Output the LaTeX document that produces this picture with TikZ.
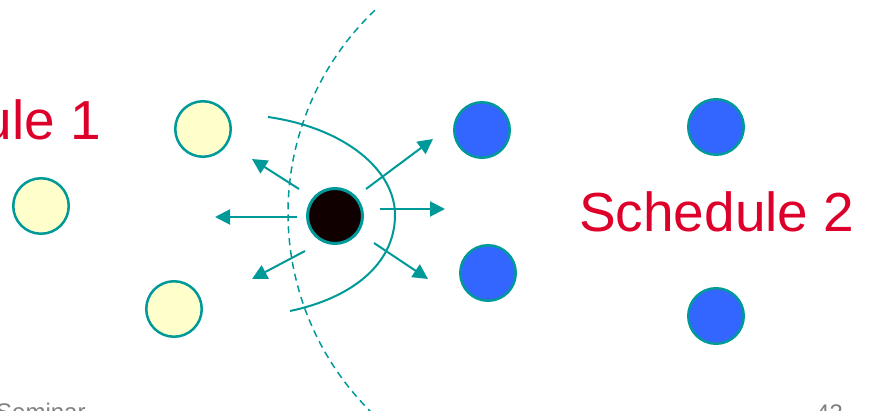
\documentclass[tikz,border=0pt]{standalone}
\usepackage{fontspec}
\setmainfont{Liberation Sans}
\definecolor{ring}{RGB}{0, 153, 153}
\definecolor{idlefill}{RGB}{255, 255, 204}
\definecolor{busyfill}{RGB}{51, 102, 255}
\definecolor{senderfill}{RGB}{17, 0, 0}
\definecolor{slotred}{RGB}{221, 0, 42}
\definecolor{footgray}{RGB}{128, 128, 128}
\usepackage{tikz}
\usetikzlibrary{arrows.meta, positioning}

\begin{document}
\begin{tikzpicture}[
                x=1pt, y=-1pt,
                idle/.style={circle, draw=ring, line width=2.5pt, fill=idlefill, inner sep=0pt, minimum size=55.5pt},
                busy/.style={circle, draw=ring, line width=2.5pt, fill=busyfill, inner sep=0pt, minimum size=55.5pt},
                sender/.style={circle, draw=ring, line width=3pt, fill=senderfill, inner sep=0pt, minimum size=55pt},
                ray/.style={draw=ring, line width=2pt, -{Triangle[length=15pt, width=15pt]}},
                reach/.style={draw=ring, line width=2pt},
                carrier/.style={draw=ring, line width=1.5pt, dash pattern=on 7pt off 5pt},
                slot/.style={text=slotred, font=\fontsize{55}{60}\selectfont, inner sep=0pt},
                foot/.style={text=footgray, font=\fontsize{24}{28}\selectfont, inner sep=0pt}
            ]%
            \useasboundingbox (0,0) rectangle (869,411);
            \clip (0,0) rectangle (869,411);
            %
            % Knoten, Schedule 1
            \node[idle] (a1) at (203,129) {};
            \node[idle] (a2) at (41,206) {};
            \node[idle] (a3) at (174,309) {};
            %
            % Knoten, Schedule 2
            \node[busy] (b1) at (482,130) {};
            \node[busy] (b2) at (488,273) {};
            \node[busy] (b3) at (716,127) {};
            \node[busy] (b4) at (716,316) {};
            %
            % Sender
            \node[sender] (src) at (335,216) {};
            %
            % Reichweiten
            \coordinate (rim) at (568,213);
            \draw[carrier] (rim) ++(226.4:280) arc[start angle=226.4, end angle=135, radius=280];
            \draw[reach] (268,117) .. controls (345,128) and (395,170) .. (395,215)
                                   .. controls (395,264) and (352,298) .. (290,311);
            %
            % Ausbreitung
            \coordinate (t1) at (299,189); \coordinate (h1) at (252,159);
            \coordinate (t2) at (297,217); \coordinate (h2) at (215,217);
            \coordinate (t3) at (305,251); \coordinate (h3) at (252,279);
            \coordinate (t4) at (366,189); \coordinate (h4) at (433,139);
            \coordinate (t5) at (380,209); \coordinate (h5) at (445,209);
            \coordinate (t6) at (374,243); \coordinate (h6) at (428,279);
            \draw[ray] (t1) -- (h1);
            \draw[ray] (t2) -- (h2);
            \draw[ray] (t3) -- (h3);
            \draw[ray] (t4) -- (h4);
            \draw[ray] (t5) -- (h5);
            \draw[ray] (t6) -- (h6);
            %
            % Beschriftung
            \node[slot, anchor=base east] (s1) at (101,140) {Schedule 1};
            \node[slot, anchor=base west] (s2) at (579,232) {Schedule 2};
            \node[foot, anchor=base west] (sem) at (-4,420) {Seminar};
            \node[foot, anchor=base west] (pg) at (816,421) {43};
        \end{tikzpicture}
\end{document}
